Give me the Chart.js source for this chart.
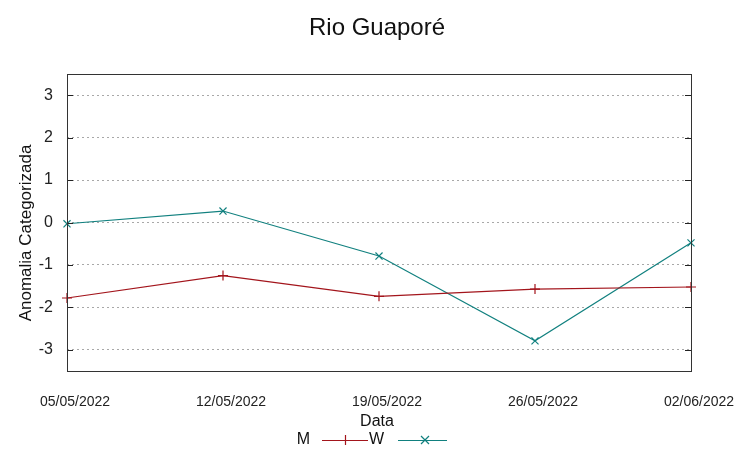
<!DOCTYPE html>
<html>
<head>
<meta charset="utf-8">
<script src="https://cdn.jsdelivr.net/npm/chart.js@4/dist/chart.umd.min.js"></script>
<style>
html,body{margin:0;padding:0;background:#fff;}
canvas{display:block;}
</style>
</head>
<body>
<canvas id="c" width="753" height="459"></canvas>
<script>
const categories = ["05/05/2022", "12/05/2022", "19/05/2022", "26/05/2022", "02/06/2022"];
const seriesM = [-1.78, -1.25, -1.74, -1.57, -1.52];
const seriesW = [-0.03, 0.27, -0.79, -2.79, -0.48];
const yTicks = [-3, -2, -1, 0, 1, 2, 3];
const titleText = "Rio Guaporé";
const xTitle = "Data";
const yTitle = "Anomalia Categorizada";
const seriesNames = ["M", "W"];

const RED = "#a3151c";
const TEAL = "#11807f";
const FONT = "'Liberation Sans', Arial, sans-serif";

const decor = {
  id: 'decor',
  afterDraw(chart) {
    const ctx = chart.ctx;
    const a = chart.chartArea;
    const ys = chart.scales.y;
    ctx.save();
    // tick marks (inward, both sides)
    ctx.strokeStyle = '#222';
    ctx.lineWidth = 1;
    yTicks.forEach(v => {
      const y = Math.round(ys.getPixelForValue(v)) + 0.5;
      ctx.beginPath();
      ctx.moveTo(a.left, y); ctx.lineTo(a.left + 6, y);
      ctx.moveTo(a.right, y); ctx.lineTo(a.right - 6, y);
      ctx.stroke();
    });
    // border
    ctx.strokeStyle = '#333';
    ctx.strokeRect(Math.round(a.left) + 0.5, Math.round(a.top) + 0.5,
                   Math.round(a.right - a.left), Math.round(a.bottom - a.top));
    // title
    ctx.fillStyle = '#111';
    ctx.textAlign = 'center';
    ctx.textBaseline = 'alphabetic';
    ctx.font = "24px " + FONT;
    ctx.fillText(titleText, 377, 35);
    // x title
    ctx.font = "16px " + FONT;
    ctx.textBaseline = 'middle';
    ctx.fillText(xTitle, 377, 422);
    // y title
    ctx.save();
    ctx.translate(26, 233);
    ctx.rotate(-Math.PI / 2);
    ctx.font = "17px " + FONT;
    ctx.fillText(yTitle, 0, 0);
    ctx.restore();
    // legend
    const ly = 440;
    ctx.font = "16px " + FONT;
    ctx.textAlign = 'right';
    ctx.fillText(seriesNames[0], 310, ly);
    ctx.fillText(seriesNames[1], 384, ly);
    ctx.lineWidth = 1.2;
    ctx.strokeStyle = RED;
    ctx.beginPath();
    ctx.moveTo(322, ly + 0.5); ctx.lineTo(368, ly + 0.5);
    ctx.moveTo(345.5, ly - 5); ctx.lineTo(345.5, ly + 5);
    ctx.stroke();
    ctx.strokeStyle = TEAL;
    ctx.beginPath();
    ctx.moveTo(398, ly + 0.5); ctx.lineTo(447, ly + 0.5);
    ctx.moveTo(421, ly - 4); ctx.lineTo(429, ly + 4);
    ctx.moveTo(421, ly + 4); ctx.lineTo(429, ly - 4);
    ctx.stroke();
    ctx.restore();
  }
};

new Chart(document.getElementById('c'), {
  type: 'line',
  data: {
    labels: categories,
    datasets: [
      { label: seriesNames[0], data: seriesM, borderColor: RED, backgroundColor: RED,
        borderWidth: 1.2, pointStyle: 'cross', pointRadius: 5, pointBorderWidth: 1.2,
        tension: 0, fill: false, clip: false },
      { label: seriesNames[1], data: seriesW, borderColor: TEAL, backgroundColor: TEAL,
        borderWidth: 1.2, pointStyle: 'crossRot', pointRadius: 5, pointBorderWidth: 1.2,
        tension: 0, fill: false, clip: false }
    ]
  },
  options: {
    responsive: false,
    animation: false,
    devicePixelRatio: 1,
    layout: { padding: { top: 74, right: 62, bottom: 0, left: 0 } },
    plugins: { legend: { display: false }, title: { display: false }, tooltip: { enabled: false } },
    scales: {
      x: {
        type: 'category',
        offset: false,
        grid: { display: false, drawTicks: false },
        border: { display: false },
        ticks: { font: { family: FONT, size: 14 }, color: '#222', padding: 23,
                 labelOffset: 8, maxRotation: 0, minRotation: 0, autoSkip: false },
        afterFit: s => { s.height = 88; }
      },
      y: {
        min: -3.5, max: 3.5,
        afterBuildTicks: s => { s.ticks = yTicks.map(v => ({ value: v })); },
        grid: { color: '#a8a8a8', lineWidth: 1, drawTicks: false },
        border: { display: false, dash: [2, 3] },
        ticks: { font: { family: FONT, size: 16 }, color: '#222', padding: 14 },
        afterFit: s => { s.width = 67; }
      }
    }
  },
  plugins: [decor]
});
</script>
</body>
</html>
